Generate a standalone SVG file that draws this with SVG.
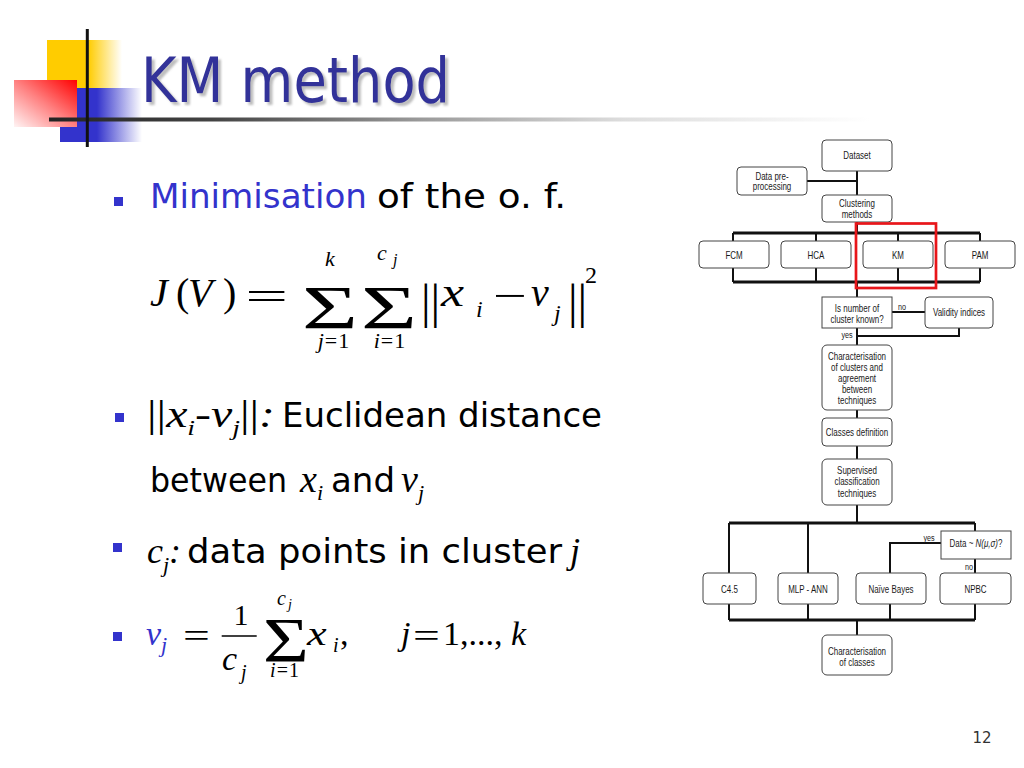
<svg xmlns="http://www.w3.org/2000/svg" width="1024" height="768" viewBox="0 0 1024 768">
<defs>
<linearGradient id="gY" x1="0" y1="0" x2="1" y2="0"><stop offset="0" stop-color="#ffcc00"/><stop offset="0.55" stop-color="#ffcc00"/><stop offset="1" stop-color="#ffcc00" stop-opacity="0"/></linearGradient>
<linearGradient id="gB" x1="0" y1="0" x2="1" y2="0"><stop offset="0" stop-color="#3333cc"/><stop offset="0.45" stop-color="#3333cc"/><stop offset="1" stop-color="#3333cc" stop-opacity="0"/></linearGradient>
<linearGradient id="gR" x1="1" y1="0" x2="0" y2="1"><stop offset="0" stop-color="#ff0000"/><stop offset="0.5" stop-color="#ff8080"/><stop offset="1" stop-color="#fff4f4"/></linearGradient>
<linearGradient id="gL" x1="0" y1="0" x2="1" y2="0"><stop offset="0" stop-color="#222"/><stop offset="0.2" stop-color="#444"/><stop offset="0.45" stop-color="#999"/><stop offset="0.7" stop-color="#ddd"/><stop offset="1" stop-color="#fff"/></linearGradient>
<filter id="sh" x="-5%" y="-10%" width="115%" height="135%">
<feGaussianBlur in="SourceAlpha" stdDeviation="1.3" result="b"/>
<feOffset in="b" dx="3" dy="3" result="o"/>
<feFlood flood-color="#888" flood-opacity="0.55"/>
<feComposite in2="o" operator="in" result="s"/>
<feMerge><feMergeNode in="s"/><feMergeNode in="SourceGraphic"/></feMerge>
</filter>
</defs>
<style>
.box{fill:#fff;stroke:#444;stroke-width:1}
.ft{font-family:"Liberation Sans",Arial,sans-serif;font-size:10.5px;fill:#1a1a1a;text-anchor:middle}
.fs{font-family:"Liberation Sans",Arial,sans-serif;font-size:9px;fill:#1a1a1a;text-anchor:middle}
.ln{stroke:#111;stroke-width:2;fill:none}
.bus{stroke:#111;stroke-width:2.8;fill:none}
.body{font-family:"DejaVu Sans",Verdana,sans-serif;font-size:34px;fill:#000}
.blue{fill:#3333cc}
.m{font-family:"Liberation Serif","Times New Roman",serif;fill:#000}
.i{font-style:italic}
.bul{fill:#3333cc}
</style>
<rect width="1024" height="768" fill="#fff"/>

<g id="title-decoration">
<rect x="47" y="40" width="75" height="48" fill="url(#gY)"/>
<rect x="60" y="88" width="82" height="54" fill="url(#gB)"/>
<rect x="14" y="80" width="63" height="47" fill="url(#gR)"/>
<rect x="49" y="117.5" width="821" height="4" fill="url(#gL)"/>
<line x1="87.3" y1="29" x2="87.3" y2="147" stroke="#111" stroke-width="3"/>
</g>

<g id="title">
<text x="141" y="101.7" font-family="DejaVu Sans, Verdana, sans-serif" font-size="62" fill="#333399" filter="url(#sh)" textLength="309" lengthAdjust="spacingAndGlyphs">KM method</text>
</g>

<g id="bullets">
<rect class="bul" x="114" y="197" width="9" height="9"/>
<rect class="bul" x="115" y="413" width="9" height="9"/>
<rect class="bul" x="113" y="543" width="9" height="9"/>
<rect class="bul" x="113" y="632" width="9" height="9"/>
</g>

<g id="line1">
<text class="body blue" x="150" y="208" textLength="217" lengthAdjust="spacingAndGlyphs">Minimisation</text>
<text class="body" x="377" y="208" textLength="189" lengthAdjust="spacingAndGlyphs">of the o. f.</text>
</g>

<g id="formula1" class="m">
<text class="i" x="150" y="306" font-size="40">J</text>
<text x="176" y="306" font-size="40">(</text>
<text class="i" x="188" y="306" font-size="40">V</text>
<text x="223" y="306" font-size="40">)</text>
<text transform="translate(266.7,310) scale(1.9,1)" text-anchor="middle" font-size="40">=</text>
<text transform="translate(330,328) scale(1.55,1)" text-anchor="middle" font-size="62">Σ</text>
<text class="i" x="330" y="266" font-size="22" text-anchor="middle">k</text>
<text x="334" y="348" font-size="22" text-anchor="middle" letter-spacing="1"><tspan class="i">j</tspan>=1</text>
<text transform="translate(389,328) scale(1.55,1)" text-anchor="middle" font-size="62">Σ</text>
<text class="i" x="377" y="260" font-size="22">c</text>
<text class="i" x="393" y="265" font-size="16">j</text>
<text x="390" y="348" font-size="22" text-anchor="middle" letter-spacing="1"><tspan class="i">i</tspan>=1</text>
<text x="421" y="318" font-size="48">||</text>
<text class="i" transform="translate(441,306) scale(1.3,1)" font-size="40">x</text>
<text class="i" x="476" y="317" font-size="24">i</text>
<text transform="translate(510,309) scale(1.5,1)" text-anchor="middle" font-size="40">−</text>
<text class="i" x="531" y="306" font-size="40">v</text>
<text class="i" x="554" y="321" font-size="24">j</text>
<text x="568" y="318" font-size="48">||</text>
<text x="585" y="283" font-size="24">2</text>
</g>

<g id="line2">
<text class="m blue" x="147" y="427" font-size="38" textLength="128" lengthAdjust="spacingAndGlyphs">||<tspan class="i">x</tspan><tspan class="i" font-size="22" dy="8">i</tspan><tspan class="i" dy="-8">-v</tspan><tspan class="i" font-size="22" dy="8">j</tspan><tspan dy="-8">||</tspan><tspan class="i">:</tspan></text>
<text class="body" x="282" y="427" textLength="320">Euclidean distance</text>
</g>

<g id="line3">
<text class="body" x="150" y="492" textLength="137" lengthAdjust="spacingAndGlyphs">between</text>
<text class="m blue i" x="300" y="492" font-size="38">x<tspan font-size="22" dy="8">i</tspan></text>
<text class="body" x="331" y="492">and</text>
<text class="m blue i" x="401" y="492" font-size="38">v<tspan font-size="22" dy="8">j</tspan></text>
</g>

<g id="line4">
<text class="m blue i" x="147" y="563" font-size="36">c<tspan font-size="22" dy="9">j</tspan><tspan dy="-9">:</tspan></text>
<text class="body" x="187" y="563" textLength="375" lengthAdjust="spacingAndGlyphs">data points in cluster</text>
<text class="m blue i" x="570" y="563" font-size="36">j</text>
</g>

<g id="formula2" class="m">
<text class="i blue" x="146" y="645" font-size="34">v<tspan font-size="22" dy="7">j</tspan></text>
<text transform="translate(196.5,647) scale(1.4,1)" text-anchor="middle" font-size="34">=</text>
<text x="241" y="625" font-size="30" text-anchor="middle">1</text>
<line x1="221.7" y1="636" x2="256.7" y2="636" stroke="#000" stroke-width="1.5"/>
<text class="i" x="222" y="670" font-size="34">c</text>
<text class="i" x="241" y="679" font-size="20">j</text>
<text transform="translate(286,661.7) scale(1.25,1)" text-anchor="middle" font-size="63">Σ</text>
<text class="i" x="277" y="605" font-size="20">c</text>
<text class="i" x="288" y="609" font-size="14">j</text>
<text x="285" y="677" font-size="20" text-anchor="middle" letter-spacing="1"><tspan class="i">i</tspan>=1</text>
<text class="i" transform="translate(307,645) scale(1.3,1)" font-size="34">x</text>
<text class="i" x="333" y="652" font-size="20">i</text>
<text x="340" y="645" font-size="34">,</text>
<text class="i" x="401" y="645" font-size="34">j</text>
<text transform="translate(426.5,647) scale(1.4,1)" text-anchor="middle" font-size="34">=</text>
<text x="443" y="645" font-size="34">1,...,</text>
<text class="i" x="511" y="645" font-size="34">k</text>
</g>

<text id="page-number" x="982" y="743" font-family="DejaVu Sans, Verdana, sans-serif" font-size="15" fill="#333" text-anchor="middle">12</text>

<g id="connectors">
<line class="ln" x1="857" y1="171" x2="857" y2="195"/>
<line class="ln" x1="807" y1="181" x2="857" y2="181"/>
<line class="ln" x1="857" y1="222" x2="857" y2="233"/>
<line class="bus" x1="733" y1="233" x2="980" y2="233"/>
<line class="ln" x1="733" y1="233" x2="733" y2="241"/>
<line class="ln" x1="816" y1="233" x2="816" y2="241"/>
<line class="ln" x1="898" y1="233" x2="898" y2="241"/>
<line class="ln" x1="980" y1="233" x2="980" y2="241"/>
<line class="ln" x1="733" y1="268" x2="733" y2="282"/>
<line class="ln" x1="816" y1="268" x2="816" y2="282"/>
<line class="ln" x1="898" y1="268" x2="898" y2="282"/>
<line class="ln" x1="980" y1="268" x2="980" y2="282"/>
<line class="bus" x1="733" y1="282" x2="980" y2="282"/>
<line class="ln" x1="857" y1="282" x2="857" y2="297"/>
<line class="ln" x1="892" y1="312" x2="925" y2="312"/>
<polyline class="ln" points="959,328 959,336 857,336"/>
<line class="ln" x1="857" y1="328" x2="857" y2="345"/>
<line class="ln" x1="857" y1="410" x2="857" y2="418"/>
<line class="ln" x1="857" y1="446" x2="857" y2="459"/>
<line class="ln" x1="857" y1="505" x2="857" y2="523"/>
<line class="bus" x1="729" y1="523" x2="975" y2="523"/>
<line class="ln" x1="729" y1="523" x2="729" y2="573"/>
<line class="ln" x1="808" y1="523" x2="808" y2="573"/>
<line class="ln" x1="975" y1="523" x2="975" y2="531"/>
<polyline class="ln" points="941,543 890,543 890,573"/>
<line class="ln" x1="975" y1="559" x2="975" y2="573"/>
<line class="ln" x1="729" y1="604" x2="729" y2="620"/>
<line class="ln" x1="808" y1="604" x2="808" y2="620"/>
<line class="ln" x1="890" y1="604" x2="890" y2="620"/>
<line class="ln" x1="975" y1="604" x2="975" y2="620"/>
<line class="bus" x1="729" y1="620" x2="975" y2="620"/>
<line class="ln" x1="857" y1="620" x2="857" y2="635"/>
<text class="fs" transform="translate(902,310) scale(0.8,1)">no</text>
<text class="fs" transform="translate(847,337.5) scale(0.8,1)">yes</text>
<text class="fs" transform="translate(929,541) scale(0.8,1)">yes</text>
<text class="fs" transform="translate(969,570) scale(0.8,1)">no</text>
</g>

<g id="n-dataset"><rect class="box" x="822" y="140" width="70" height="31" rx="4"/><text class="ft" transform="translate(857,159) scale(0.76,1)">Dataset</text></g>
<g id="n-preprocessing"><rect class="box" x="737" y="167" width="70" height="28" rx="4"/><text class="ft" transform="translate(772,179.5) scale(0.76,1)">Data pre-<tspan x="0" dy="10.5">processing</tspan></text></g>
<g id="n-clustering"><rect class="box" x="822" y="195" width="70" height="27" rx="4"/><text class="ft" transform="translate(857,207) scale(0.76,1)">Clustering<tspan x="0" dy="11">methods</tspan></text></g>
<g id="n-fcm"><rect class="box" x="699" y="241" width="70" height="27" rx="4"/><text class="ft" transform="translate(734,258.5) scale(0.76,1)">FCM</text></g>
<g id="n-hca"><rect class="box" x="781" y="241" width="70" height="27" rx="4"/><text class="ft" transform="translate(816,258.5) scale(0.76,1)">HCA</text></g>
<g id="n-km"><rect class="box" x="863" y="241" width="70" height="27" rx="4"/><text class="ft" transform="translate(898,258.5) scale(0.76,1)">KM</text></g>
<g id="n-pam"><rect class="box" x="945" y="241" width="70" height="27" rx="4"/><text class="ft" transform="translate(980,258.5) scale(0.76,1)">PAM</text></g>
<g id="n-known"><rect class="box" x="822" y="297" width="70" height="31"/><text class="ft" transform="translate(857,312) scale(0.76,1)">Is number of<tspan x="0" dy="11">cluster known?</tspan></text></g>
<g id="n-validity"><rect class="box" x="925" y="297" width="68" height="31" rx="4"/><text class="ft" transform="translate(959,316) scale(0.76,1)">Validity indices</text></g>
<g id="n-characterisation-clusters"><rect class="box" x="822" y="345" width="70" height="65" rx="5"/><text class="ft" transform="translate(857,359.5) scale(0.76,1)">Characterisation<tspan x="0" dy="11.2">of clusters and</tspan><tspan x="0" dy="11.2">agreement</tspan><tspan x="0" dy="11.2">between</tspan><tspan x="0" dy="11.2">techniques</tspan></text></g>
<g id="n-classes-definition"><rect class="box" x="822" y="418" width="70" height="28" rx="4"/><text class="ft" transform="translate(857,435.5) scale(0.76,1)">Classes definition</text></g>
<g id="n-supervised"><rect class="box" x="822" y="459" width="70" height="46" rx="5"/><text class="ft" transform="translate(857,474) scale(0.76,1)">Supervised<tspan x="0" dy="11.5">classification</tspan><tspan x="0" dy="11.5">techniques</tspan></text></g>
<g id="n-normal"><rect class="box" x="941" y="531" width="70" height="28"/><text class="ft" transform="translate(976,547) scale(0.76,1)">Data ~ <tspan font-style="italic">N(μ,σ)</tspan>?</text></g>
<g id="n-c45"><rect class="box" x="703" y="573" width="53" height="31" rx="4"/><text class="ft" transform="translate(729.5,593) scale(0.76,1)">C4.5</text></g>
<g id="n-mlp"><rect class="box" x="778" y="573" width="60" height="31" rx="4"/><text class="ft" transform="translate(808,593) scale(0.76,1)">MLP - ANN</text></g>
<g id="n-naive"><rect class="box" x="856" y="573" width="70" height="31" rx="4"/><text class="ft" transform="translate(891,593) scale(0.76,1)">Naïve Bayes</text></g>
<g id="n-npbc"><rect class="box" x="940" y="573" width="71" height="31" rx="4"/><text class="ft" transform="translate(975.5,593) scale(0.76,1)">NPBC</text></g>
<g id="n-characterisation-classes"><rect class="box" x="822" y="635" width="70" height="40" rx="5"/><text class="ft" transform="translate(857,654.5) scale(0.76,1)">Characterisation<tspan x="0" dy="11.5">of classes</tspan></text></g>

<rect id="km-highlight" x="856" y="223.5" width="80" height="64.5" fill="none" stroke="#e8161a" stroke-width="2.7"/>
</svg>
